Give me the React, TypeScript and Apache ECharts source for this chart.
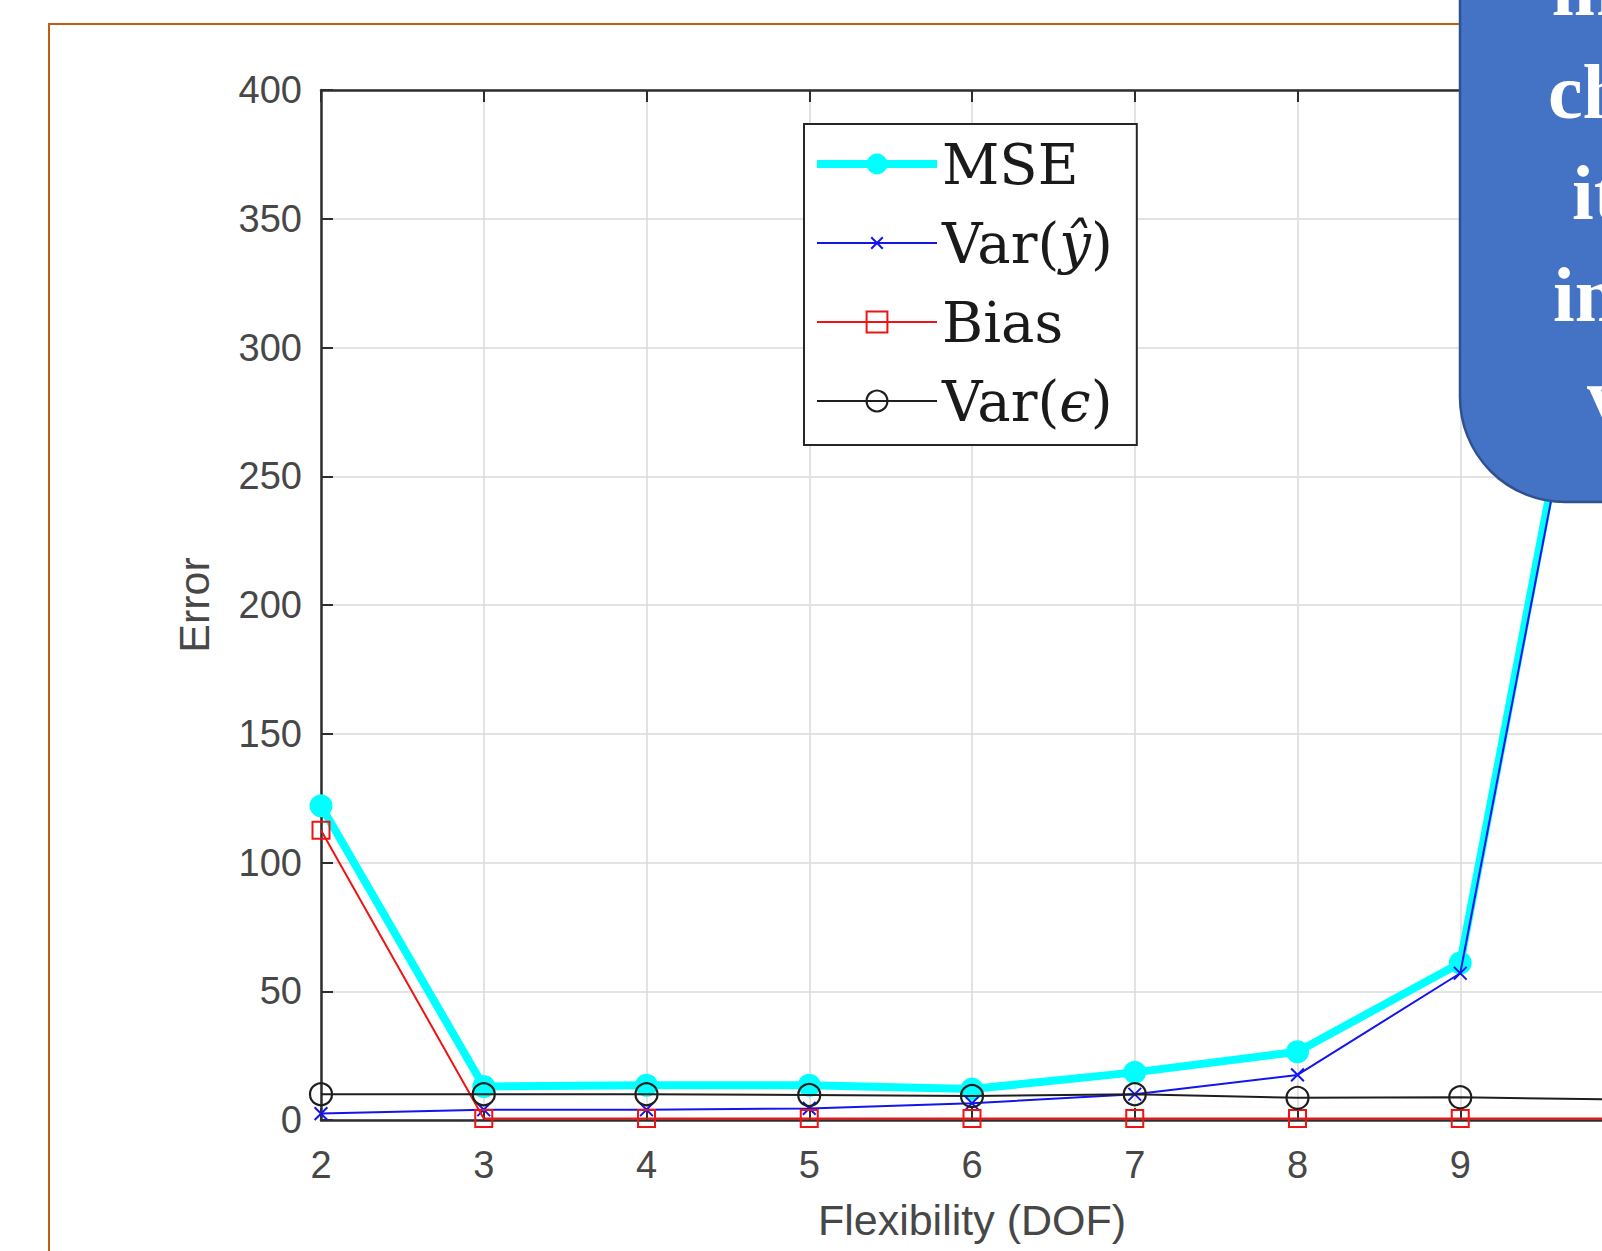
import React, { useEffect, useRef } from 'react';
import * as echarts from 'echarts';

// ---- data ----
const dof = [2, 3, 4, 5, 6, 7, 8, 9, 10];
const mse = [122, 13, 13.5, 13.5, 12, 18.5, 26.5, 61, 393];
const varYhat = [2.5, 4, 4, 4.5, 6.5, 10, 17.5, 57, 386];
const bias = [112.5, 0.6, 0.6, 0.6, 0.6, 0.6, 0.6, 0.6, 0.6];
const varEps = [10, 10, 10, 9.7, 9.3, 10, 8.6, 8.8, 8];
const seriesNames = ['MSE', 'Var(ŷ)', 'Bias', 'Var(ϵ)'];
const xAxisTitle = 'Flexibility (DOF)';
const yAxisTitle = 'Error';
const calloutLines = ['in', 'changes', 'its', 'increases', 'variance'];

const CROSS = 'path://M0,0L10,10M10,0L0,10M-4,-4M14,14';
const SANS = '"Liberation Sans", Arial, Helvetica, sans-serif';
const SERIF = '"Liberation Serif", "DejaVu Serif", "Times New Roman", serif';
const LEGEND_SERIF = '"DejaVu Serif", "Liberation Serif", serif';

const pairs = (ys: number[]) => dof.map((x, i) => [x, ys[i]]);

export default function App() {
  const ref = useRef<HTMLDivElement>(null);
  useEffect(() => {
    if (!ref.current) return;
    const chart = echarts.init(ref.current, undefined, { renderer: 'svg' });
    const axisColor = '#2e2e2e';
    const labelColor = '#474747';
    const gridColor = '#dadada';
    const seriesStyles = [
      { line: { color: '#00FFFF', width: 8 }, item: { color: '#00FFFF' } },
      { line: { color: '#1414EE', width: 2 }, item: { color: 'transparent', borderColor: '#1414EE', borderWidth: 2 } },
      { line: { color: '#EE1414', width: 2 }, item: { color: 'transparent', borderColor: '#EE1414', borderWidth: 2 } },
      { line: { color: '#1e1e1e', width: 2 }, item: { color: 'transparent', borderColor: '#1e1e1e', borderWidth: 2.2 } },
    ];
    const symbols = ['circle', CROSS, 'rect', 'circle'];
    const symbolSizes = [23, 23, 17, 22];
    const values = [mse, varYhat, bias, varEps];

    const option: any = {
      animation: false,
      backgroundColor: '#ffffff',
      grid: {
        left: 321, top: 90, width: 1302, height: 1030,
        containLabel: false, outerBoundsMode: 'none',
      },
      xAxis: [
        {
          type: 'value', min: 2, max: 10, interval: 1, position: 'bottom',
          name: xAxisTitle, nameLocation: 'middle', nameGap: 78,
          nameTextStyle: { fontFamily: SANS, fontSize: 43, color: labelColor },
          axisLine: { show: true, onZero: false, lineStyle: { color: axisColor, width: 2.5 } },
          axisTick: { show: true, inside: true, length: 12, lineStyle: { color: axisColor, width: 2 } },
          axisLabel: { fontFamily: SANS, fontSize: 38, color: labelColor, margin: 26, showMaxLabel: false },
          splitLine: { show: true, lineStyle: { color: gridColor, width: 1.5 } },
        },
        {
          type: 'value', min: 2, max: 10, interval: 1, position: 'top',
          axisLine: { show: true, onZero: false, lineStyle: { color: axisColor, width: 2.5 } },
          axisTick: { show: true, inside: true, length: 12, lineStyle: { color: axisColor, width: 2 } },
          axisLabel: { show: false },
          splitLine: { show: false },
        },
      ],
      yAxis: {
        type: 'value', min: 0, max: 400, interval: 50,
        name: yAxisTitle, nameLocation: 'middle', nameGap: 106, nameRotate: 90,
        nameTextStyle: { fontFamily: SANS, fontSize: 43, color: labelColor },
        axisLine: { show: true, onZero: false, lineStyle: { color: axisColor, width: 2.5 } },
        axisTick: { show: true, inside: true, length: 12, lineStyle: { color: axisColor, width: 2 } },
        axisLabel: { fontFamily: SANS, fontSize: 38, color: labelColor, margin: 19 },
        splitLine: { show: true, lineStyle: { color: gridColor, width: 1.5 } },
      },
      legend: {
        orient: 'vertical', left: 804, top: 124,
        padding: [12, 24, 16, 9],
        itemGap: 23, itemWidth: 120, itemHeight: 26,
        backgroundColor: '#ffffff', borderColor: '#262626', borderWidth: 2, borderRadius: 0,
        textStyle: {
          fontFamily: LEGEND_SERIF, fontSize: 56, color: '#1a1a1a',
          rich: { i: { fontFamily: LEGEND_SERIF, fontSize: 56, fontStyle: 'italic', color: '#1a1a1a' } },
        },
        formatter: (n: string) => {
          if (n === seriesNames[1]) return 'Var({i|ŷ})';
          if (n === seriesNames[3]) return 'Var({i|ϵ})';
          return n;
        },
        data: seriesNames.map((n, i) => ({
          name: n,
          itemStyle: seriesStyles[i].item,
          lineStyle: seriesStyles[i].line,
        })),
      },
      series: seriesNames.map((n, i) => ({
        name: n,
        type: 'line',
        xAxisIndex: 0,
        data: pairs(values[i]),
        symbol: symbols[i],
        symbolSize: symbolSizes[i],
        lineStyle: seriesStyles[i].line,
        itemStyle: seriesStyles[i].item,
        z: 2 + i,
        emphasis: { disabled: true },
      })),
      graphic: [
        {
          type: 'rect', z: 0, silent: true,
          shape: { x: 49, y: 24, width: 1800, height: 1500 },
          style: { fill: 'none', stroke: '#C55A11', lineWidth: 2 },
        },
        {
          type: 'rect', z: 100, silent: true,
          shape: { x: 1460, y: -300, width: 500, height: 802, r: 105 },
          style: { fill: '#4472C4', stroke: '#2F528F', lineWidth: 2.5 },
        },
        ...calloutLines.map((t, i) => ({
          type: 'text', z: 101, silent: true,
          x: [1552, 1548, 1572, 1553, 1587][i],
          y: [-12, 91, 192, 294, 395][i],
          style: { text: t, fill: '#ffffff', font: `bold 78px ${SERIF}`, textAlign: 'left', textVerticalAlign: 'middle' },
        })),
      ],
    };
    chart.setOption(option);
    return () => chart.dispose();
  }, []);
  return (
    <div
      ref={ref}
      style={{ position: 'fixed', left: 0, top: 0, width: 1602, height: 1251, background: '#fff' }}
    />
  );
}
